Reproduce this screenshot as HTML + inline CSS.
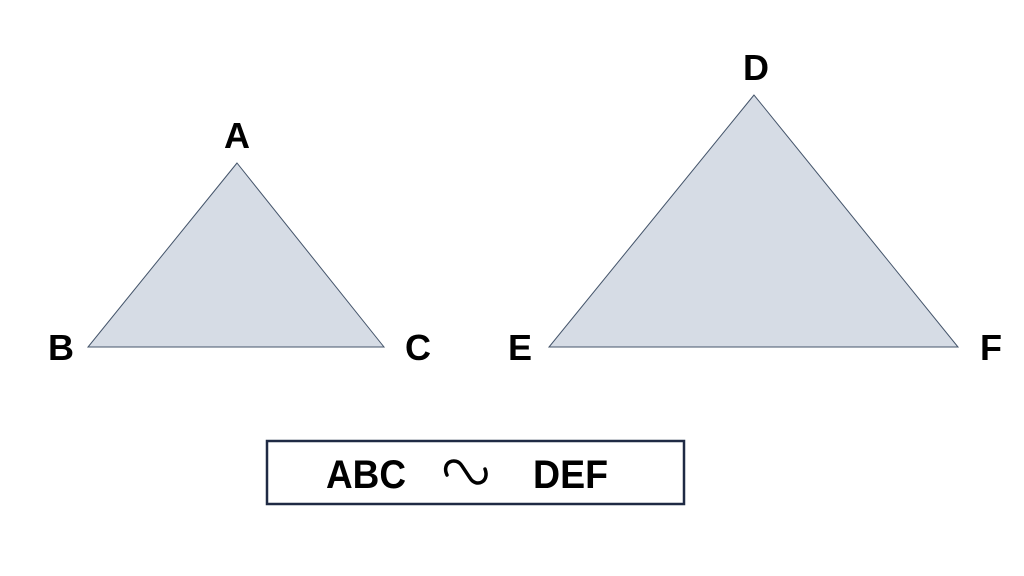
<!DOCTYPE html>
<html><head><style>html,body{margin:0;padding:0;background:#fff}svg{display:block}</style></head>
<body>
<svg width="1024" height="576" viewBox="0 0 1024 576" xmlns="http://www.w3.org/2000/svg" font-family="Liberation Sans, sans-serif" font-weight="bold" fill="#000">
<polygon points="237,163 88,347 384,347" fill="#D6DCE5" stroke="#44546A" stroke-width="1"/>
<polygon points="754,95 549,347 958,347" fill="#D6DCE5" stroke="#44546A" stroke-width="1"/>
<g font-size="36" text-anchor="middle">
<text x="237" y="148">A</text>
<text x="61" y="360">B</text>
<text x="418" y="360">C</text>
<text x="756" y="80">D</text>
<text x="520" y="360">E</text>
<text x="991" y="360">F</text>
</g>
<rect x="267" y="441" width="417" height="63" fill="#fff" stroke="#1F2A44" stroke-width="2.5"/>
<g font-size="40">
<text x="326" y="488" textLength="80" lengthAdjust="spacingAndGlyphs">ABC</text>
<text x="533" y="488" textLength="75" lengthAdjust="spacingAndGlyphs">DEF</text>
</g>
<path d="M447,475 C441,462 456,456 462,466 L470,478 C476,488 490,482 485,469" fill="none" stroke="#000" stroke-width="3.5" stroke-linecap="round"/>
</svg>
</body></html>
